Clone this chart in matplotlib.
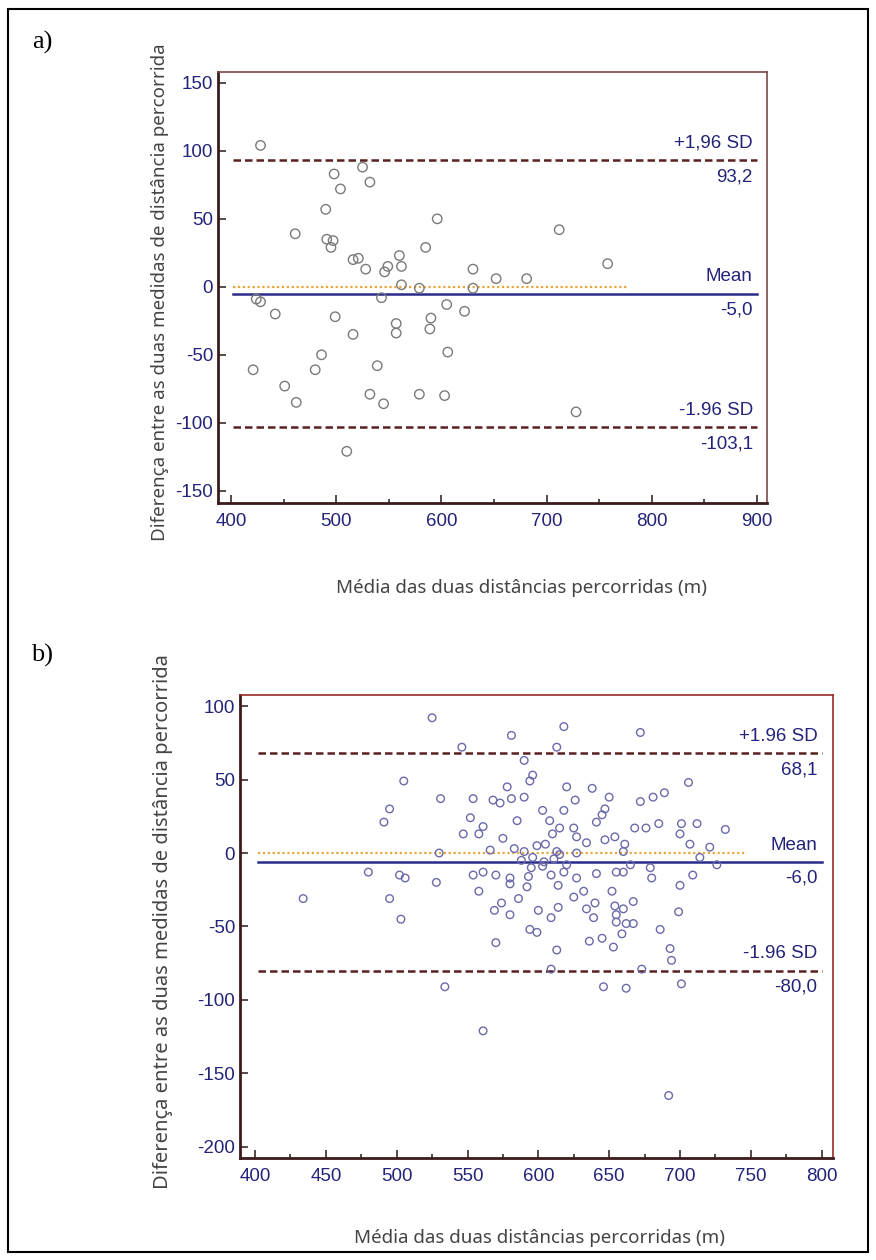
import numpy as np
import matplotlib
matplotlib.use('Agg')
import matplotlib.pyplot as plt
from matplotlib.patches import Rectangle
from matplotlib.ticker import MultipleLocator

plt.rcParams['axes.unicode_minus'] = False

# panel a) : mean of the two distances (x) and difference (y)
mean_a = [428, 525, 498, 532, 504, 490, 596, 461, 491, 497, 495, 585, 560, 516, 521,
          562, 528, 546, 549, 630, 652, 562, 579, 630, 712, 758, 681,
          424, 428, 442, 499, 516, 543, 557, 557, 590, 589, 605, 622, 606, 486,
          421, 480, 539, 451, 462, 532, 545, 579, 603, 510, 728]
diff_a = [104, 88, 83, 77, 72, 57, 50, 39, 35, 34, 29, 29, 23, 20, 21,
          15, 13, 11, 15, 13, 6, 1.5, -1, -1, 42, 17, 6,
          -9, -11, -20, -22, -35, -8, -27, -34, -23, -31, -13, -18, -48, -50,
          -61, -61, -58, -73, -85, -79, -86, -79, -80, -121, -92]
stats_a = [93.2, -5.0, -103.1]
labels_a = ['+1,96 SD', 'Mean', '-1.96 SD']
values_a = ['93,2', '-5,0', '-103,1']

# panel b)
mean_b = [525, 505, 531, 495, 491, 480, 502, 506, 528, 434, 495, 503, 530,
          618, 581, 546, 613, 590, 596, 594, 578, 620, 638, 650, 554, 568, 573,
          581, 590, 626, 647, 603, 618, 645, 641, 552, 585, 608, 561, 547, 558,
          615, 625, 610, 575, 627, 654, 647, 599, 605, 634, 583, 566, 590, 613,
          627, 660,
          554, 561, 570, 580, 593, 609, 618, 627, 641, 655, 558, 580, 592, 614,
          625, 632, 652, 574, 586, 600, 614, 640, 654, 569,
          588, 596, 604, 611, 620, 603, 595, 615,
          672, 706, 689, 681, 672, 668, 676, 685, 701, 712, 732, 700, 707, 721,
          661, 714, 726, 665, 679, 680, 709, 700, 660, 667, 660, 699,
          580, 609, 594, 599, 570, 613, 609, 534, 561, 646, 662, 634, 639, 655,
          659, 636, 645, 653, 662, 655, 667, 686, 693, 694, 673, 701, 692]
diff_b = [92, 49, 37, 30, 21, -13, -15, -17, -20, -31, -31, -45, 0,
          86, 80, 72, 72, 63, 53, 49, 45, 45, 44, 38, 37, 36, 34,
          37, 38, 36, 30, 29, 29, 26, 21, 24, 22, 22, 18, 13, 13,
          17, 17, 13, 10, 11, 11, 9, 5, 6, 7, 3, 2, 1, 1,
          0, 1,
          -15, -13, -15, -17, -16, -15, -13, -17, -14, -13, -26, -21, -23, -22,
          -30, -26, -26, -34, -31, -39, -37, -34, -36, -39,
          -5, -3, -6, -4, -8, -9, -10, -1,
          82, 48, 41, 38, 35, 17, 17, 20, 20, 20, 16, 13, 6, 4,
          6, -3, -8, -8, -10, -17, -15, -22, -13, -33, -38, -40,
          -42, -44, -52, -54, -61, -66, -79, -91, -121, -91, -92, -38, -44, -42,
          -55, -60, -58, -64, -48, -47, -48, -52, -65, -73, -79, -89, -165]
stats_b = [68.1, -6.0, -80.0]
labels_b = ['+1.96 SD', 'Mean', '-1.96 SD']
values_b = ['68,1', '-6,0', '-80,0']

navy = '#23237a'
W, H = 876, 1260


def panel(ax, x, y, stats, labels, values, xlim, ylim, xmaj, xmin, ymaj,
          zero_end, mcol, msize, frame):
    ax.set_xlim(*xlim)
    ax.set_ylim(*ylim)
    ax.scatter(x, y, s=msize, facecolors='none', edgecolors=mcol, linewidths=1.0, zorder=3)
    x0 = xmaj[0]
    x1 = xmaj[-1]
    ax.plot([x0 + 2, zero_end], [0, 0], color='#e8a43c', lw=1.6, ls=(0, (1, 1.2)), zorder=2)
    ax.plot([x0 + 2, x1], [stats[0], stats[0]], color='#5a2020', lw=1.8, ls=(0, (3, 1.6)), zorder=2)
    ax.plot([x0 + 2, x1], [stats[2], stats[2]], color='#5a2020', lw=1.8, ls=(0, (3, 1.6)), zorder=2)
    ax.plot([x0 + 2, x1], [stats[1], stats[1]], color='#2a2a8c', lw=1.8, zorder=2)
    for s, lab, val in zip(stats, labels, values):
        ax.annotate(lab, (x1, s), xytext=(-3, 12), textcoords='offset points',
                    ha='right', va='center', color=navy, fontsize=13.5, family='Liberation Sans')
        ax.annotate(val, (x1, s), xytext=(-3, -12), textcoords='offset points',
                    ha='right', va='center', color=navy, fontsize=13.5, family='Liberation Sans')
    ax.set_xticks(xmaj)
    ax.xaxis.set_minor_locator(MultipleLocator(xmin))
    ax.set_yticks(ymaj)
    ax.tick_params(which='both', direction='in', colors='#3a2a2a', labelcolor=navy,
                   labelsize=13.5, width=1.2)
    ax.tick_params(which='major', length=6)
    ax.tick_params(which='minor', length=3)
    ax.tick_params(axis='x', pad=7)
    for lab in ax.get_xticklabels() + ax.get_yticklabels():
        lab.set_family('Liberation Sans')
    for side in ['top', 'right']:
        ax.spines[side].set_color(frame)
        ax.spines[side].set_linewidth(1.2)
    for side in ['left', 'bottom']:
        ax.spines[side].set_color('#3a1a1a')
        ax.spines[side].set_linewidth(2.0)


fig = plt.figure(figsize=(W / 100, H / 100), dpi=100)

ax1 = fig.add_axes([218 / W, 1 - 503 / H, 549 / W, 431 / H])
panel(ax1, mean_a, diff_a, stats_a, labels_a, values_a, (387.6, 909.5), (-159, 158),
      [400, 500, 600, 700, 800, 900], 50, [-150, -100, -50, 0, 50, 100, 150],
      776, '#7a7a7a', 46, '#7a4a4a')

ax2 = fig.add_axes([240 / W, 1 - 1158 / H, 593 / W, 463 / H])
panel(ax2, mean_b, diff_b, stats_b, labels_b, values_b, (389.4, 808), (-207.5, 107.5),
      [400, 450, 500, 550, 600, 650, 700, 750, 800], 25,
      [-200, -150, -100, -50, 0, 50, 100],
      747, '#6a6aaa', 30, '#9a2a2a')

ylab = 'Diferença entre as duas medidas de distância percorrida'
xlab = 'Média das duas distâncias percorridas (m)'
fig.text(160 / W, 1 - 292 / H, ylab, rotation=90, ha='center', va='center',
         fontsize=13.5, color='#444444', family='Noto Sans')
fig.text(163 / W, 1 - 922 / H, ylab, rotation=90, ha='center', va='center',
         fontsize=14.5, color='#444444', family='Noto Sans')
fig.text(522 / W, 1 - 588 / H, xlab, ha='center', va='center',
         fontsize=13.5, color='#444444', family='Noto Sans')
fig.text(540 / W, 1 - 1238 / H, xlab, ha='center', va='center',
         fontsize=13.5, color='#444444', family='Noto Sans')
fig.text(42 / W, 1 - 42 / H, 'a)', ha='center', va='center', fontsize=19,
         family='Liberation Serif')
fig.text(42 / W, 1 - 655 / H, 'b)', ha='center', va='center', fontsize=19,
         family='Liberation Serif')

fig.add_artist(Rectangle((8 / W, 8 / H), 860 / W, 1243 / H, transform=fig.transFigure,
                         fill=False, lw=1.5, ec='black'))

fig.savefig('out.png', dpi=100)
